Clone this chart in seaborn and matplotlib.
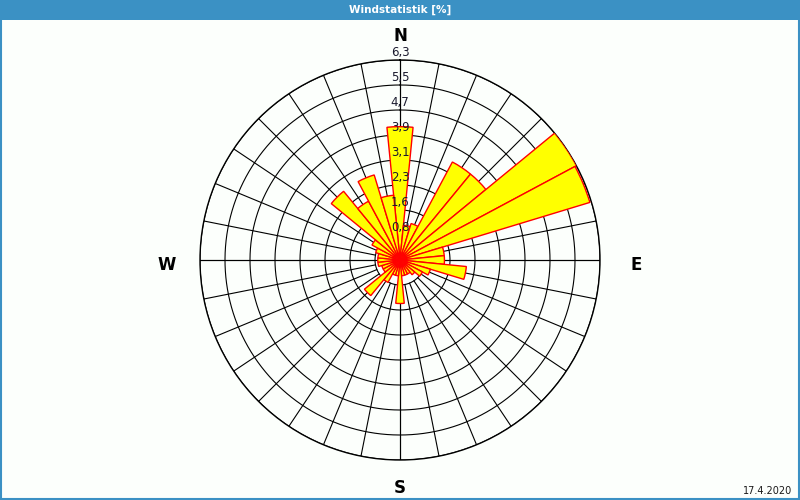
import numpy as np
import pandas as pd
import matplotlib
matplotlib.use("Agg")
import matplotlib.pyplot as plt
from matplotlib.patches import Rectangle
import seaborn as sns

# ---- data ----
directions = ["N", "NbE", "NNE", "NEbN", "NE", "NEbE", "ENE", "EbN",
              "E", "EbS", "ESE", "SEbE", "SE", "SEbS", "SSE", "SbE",
              "S", "SbW", "SSW", "SWbS", "SW", "SWbW", "WSW", "WbS",
              "W", "WbN", "WNW", "NWbW", "NW", "NWbN", "NNW", "NbW"]
frequency = [4.2, 1.1, 1.2, 3.5, 3.5, 6.3, 6.25, 1.4,
             1.4, 2.1, 1.0, 0.8, 0.6, 0.5, 0.5, 0.5,
             1.37, 0.5, 0.5, 0.8, 1.45, 0.6, 0.6, 0.7,
             0.7, 0.7, 0.8, 1.0, 2.8, 2.1, 2.8, 2.05]
ring_values = [0.7875, 1.575, 2.3625, 3.15, 3.9375, 4.725, 5.5125, 6.3]
ring_labels = ["0,8", "1,6", "2,3", "3,1", "3,9", "4,7", "5,5", "6,3"]
compass = ["N", "E", "S", "W"]
title = "Windstatistik [%]"
date_text = "17.4.2020"

sns.set_theme(style="white")
plt.rcParams["font.family"] = ["DejaVu Sans"]

bg = "#fcfffc"
blue = "#3b91c4"
fig = plt.figure(figsize=(8, 5), dpi=100, facecolor=bg)

# title bar and frame
fig.add_artist(Rectangle((0, 1 - 20 / 500), 1, 20 / 500, transform=fig.transFigure,
                         facecolor=blue, edgecolor="none", zorder=0))
fig.add_artist(Rectangle((0.5 / 800, 1 / 500), 1 - 1.5 / 800, 1 - 1 / 500, transform=fig.transFigure,
                         facecolor="none", edgecolor=blue, linewidth=1.5, zorder=5))
fig.text(0.5, 1 - 10 / 500, title, ha="center", va="center", color="white",
         fontsize=7.5, fontweight="bold")
fig.text(792 / 800, 1 - 491 / 500, date_text, ha="right", va="center",
         color="#1a1a1a", fontsize=7)

ax = fig.add_axes([0.25, 0.08, 0.5, 0.8], projection="polar")
ax.set_facecolor("none")
ax.set_theta_zero_location("N")
ax.set_theta_direction(-1)

n = len(directions)
step = 2 * np.pi / n
theta = np.arange(n) * step

# grid
tt = np.linspace(0, 2 * np.pi, 720)
for r in ring_values:
    ax.plot(tt, np.full_like(tt, r), color="black", lw=0.8, zorder=1)
for a in theta:
    ax.plot([a, a], [ring_values[0], ring_values[-1]], color="black", lw=0.8, zorder=1)
for a in [0, np.pi / 2, np.pi, 3 * np.pi / 2]:
    ax.plot([a, a], [0, ring_values[-1]], color="black", lw=0.8, zorder=1)

df = pd.DataFrame({"theta": theta, "freq": frequency, "dir": directions})
sns.barplot(data=df, x="theta", y="freq", native_scale=True, width=1.0,
            color="#ffff00", saturation=1, edgecolor="#ff0000", linewidth=1,
            errorbar=None, ax=ax, zorder=3)

ax.set_xlim(0, 2 * np.pi)
ax.set_ylim(0, ring_values[-1])
ax.set_xticks([])
ax.set_yticks([])
ax.set_xlabel("")
ax.set_ylabel("")
ax.grid(False)
ax.spines["polar"].set_color("black")
ax.spines["polar"].set_linewidth(1)

for r, lab in zip(ring_values, ring_labels):
    ax.text(0, r + 0.04, lab, ha="center", va="bottom", fontsize=8.5,
            color="#1a1a2e", zorder=6, clip_on=False)

pos = {"N": (400, 36), "E": (636, 265), "S": (400, 488), "W": (167, 265)}
for c in compass:
    x, y = pos[c]
    fig.text(x / 800, 1 - y / 500, c, ha="center", va="center", fontsize=12,
             fontweight="bold", color="black")

fig.savefig("out.png", dpi=100, facecolor=bg)
